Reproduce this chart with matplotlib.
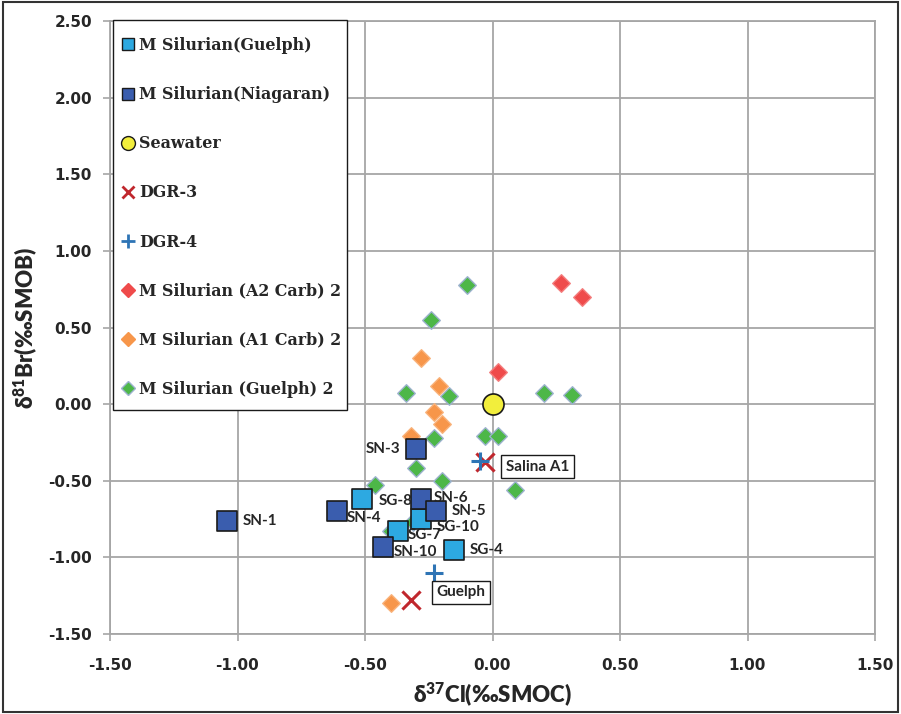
import matplotlib.pyplot as plt
from matplotlib.lines import Line2D
from matplotlib.patches import Rectangle

# --- Data ---
sg_names = ["SG-8", "SG-10", "SG-7", "SG-4"]
sg_x = [-0.51, -0.28, -0.37, -0.15]
sg_y = [-0.62, -0.75, -0.83, -0.95]

sn_names = ["SN-1", "SN-4", "SN-3", "SN-6", "SN-5", "SN-10"]
sn_x = [-1.04, -0.61, -0.30, -0.28, -0.22, -0.43]
sn_y = [-0.76, -0.70, -0.29, -0.62, -0.70, -0.93]

sea_x = [0.0]
sea_y = [0.0]

dgr3_x = [-0.03, -0.32]
dgr3_y = [-0.38, -1.28]

dgr4_x = [-0.05, -0.23]
dgr4_y = [-0.37, -1.10]

a2_x = [0.27, 0.35, 0.02]
a2_y = [0.79, 0.70, 0.21]

a1_x = [-0.28, -0.21, -0.23, -0.20, -0.32, -0.40]
a1_y = [0.30, 0.12, -0.05, -0.13, -0.21, -1.30]

g2_x = [-0.10, -0.24, -0.34, -0.17, 0.20, 0.31, -0.03, 0.02, -0.23,
        -0.30, -0.46, -0.20, 0.09, -0.31, -0.40]
g2_y = [0.78, 0.55, 0.07, 0.05, 0.07, 0.06, -0.21, -0.21, -0.22,
        -0.42, -0.53, -0.50, -0.56, -0.77, -0.83]

# label offsets (points) for the sample names
label_offsets = {
    "SG-8": (12, -1), "SG-10": (11, -6), "SG-7": (7, -3), "SG-4": (11, 0),
    "SN-1": (11, 0), "SN-4": (7, -5), "SN-3": (-11, 0), "SN-6": (9, 1),
    "SN-5": (11, 0), "SN-10": (8, -4),
}

# --- Colours ---
sg_color = '#2DA9E1'
sn_color = '#3A5DAE'
sea_color = '#F2EE3C'
dgr3_color = '#C0272D'
dgr4_color = '#2E74B5'
a2_color = '#EF4B4B'
a1_color = '#F7964A'
g2_color = '#4DB748'
g2_edge = '#9DB2CF'

fig = plt.figure(figsize=(9.01, 7.14), dpi=100)
ax = fig.add_axes([110 / 901, 1 - 634 / 714, 765 / 901, 613 / 714])

ax.scatter(g2_x, g2_y, marker='D', s=80, color=g2_color, edgecolor=g2_edge, linewidth=1, zorder=3)
ax.scatter(a1_x, a1_y, marker='D', s=80, color=a1_color, edgecolor='#F9B27A', linewidth=1, zorder=3)
ax.scatter(a2_x, a2_y, marker='D', s=80, color=a2_color, edgecolor='#F47C7C', linewidth=1, zorder=3)
ax.scatter(sg_x, sg_y, marker='s', s=220, color=sg_color, edgecolor='#1A1A1A', linewidth=1.2, zorder=4)
ax.scatter(sn_x, sn_y, marker='s', s=220, color=sn_color, edgecolor='#1A1A1A', linewidth=1.2, zorder=4)
ax.scatter(sea_x, sea_y, marker='o', s=230, color=sea_color, edgecolor='#1A1A1A', linewidth=1.2, zorder=5)
ax.scatter(dgr3_x, dgr3_y, marker='x', s=170, color=dgr3_color, linewidth=2.2, zorder=5)
ax.scatter(dgr4_x, dgr4_y, marker='+', s=170, color=dgr4_color, linewidth=2.2, zorder=5)

label_font = dict(family='Lato', fontweight='bold', fontsize=11, color='#262626')
for name, x, y in zip(sg_names + sn_names, sg_x + sn_x, sg_y + sn_y):
    dx, dy = label_offsets[name]
    ax.annotate(name, (x, y), xytext=(dx, dy), textcoords='offset points',
                ha='right' if dx < 0 else 'left', va='center', zorder=6, **label_font)

box = dict(boxstyle='square,pad=0.3', facecolor='white', edgecolor='#1A1A1A', linewidth=1)
ax.annotate("Salina A1", (dgr3_x[0], dgr3_y[0]), xytext=(15, -3), textcoords='offset points',
            ha='left', va='center', bbox=box, zorder=6, **label_font)
ax.annotate("Guelph", (dgr4_x[1], dgr4_y[1]), xytext=(2, -14), textcoords='offset points',
            ha='left', va='center', bbox=box, zorder=6, **label_font)

# axes styling
ax.set_xlim(-1.5, 1.5)
ax.set_ylim(-1.5, 2.5)
ax.set_xticks([-1.5, -1.0, -0.5, 0.0, 0.5, 1.0, 1.5])
ax.set_yticks([-1.5, -1.0, -0.5, 0.0, 0.5, 1.0, 1.5, 2.0, 2.5])
ax.xaxis.set_major_formatter(plt.FormatStrFormatter('%.2f'))
ax.yaxis.set_major_formatter(plt.FormatStrFormatter('%.2f'))
ax.grid(True, color='#A6A6A6', linewidth=1.3)
ax.set_axisbelow(True)
for spine in ax.spines.values():
    spine.set_color('#A6A6A6')
    spine.set_linewidth(1.3)
ax.tick_params(direction='out', length=5, color='#A6A6A6', width=1.2,
               labelsize=11, labelcolor='#262626', pad=4)
for lbl in ax.get_xticklabels() + ax.get_yticklabels():
    lbl.set_fontweight('bold')
ax.tick_params(axis='x', pad=12)
ax.tick_params(axis='y', pad=8)

ax.set_xlabel(r'$\mathregular{\delta^{37}}$Cl(‰SMOC)', family='Lato', fontweight='heavy',
              fontsize=16, color='#262626', labelpad=6)
ax.set_ylabel(r'$\mathregular{\delta^{81}}$Br(‰SMOB)', family='Lato', fontweight='heavy',
              fontsize=16, color='#262626', labelpad=6)

# legend: white box drawn by hand, entries laid out by the legend without frame
legend_box = Rectangle((113 / 901, 1 - 410 / 714), 234 / 901, 390 / 714,
                       transform=fig.transFigure, facecolor='white', edgecolor='#1A1A1A',
                       linewidth=1.0, zorder=9, clip_on=False)
ax.add_patch(legend_box)

handles = [
    Line2D([0], [0], marker='s', ls='none', ms=9, mfc=sg_color, mec='#1A1A1A', label='M Silurian(Guelph)'),
    Line2D([0], [0], marker='s', ls='none', ms=9, mfc=sn_color, mec='#1A1A1A', label='M Silurian(Niagaran)'),
    Line2D([0], [0], marker='o', ls='none', ms=10, mfc=sea_color, mec='#1A1A1A', label='Seawater'),
    Line2D([0], [0], marker='x', ls='none', ms=9, mew=2, color=dgr3_color, label='DGR-3'),
    Line2D([0], [0], marker='+', ls='none', ms=10, mew=2, color=dgr4_color, label='DGR-4'),
    Line2D([0], [0], marker='D', ls='none', ms=7, mfc=a2_color, mec=a2_color, label='M Silurian (A2 Carb) 2'),
    Line2D([0], [0], marker='D', ls='none', ms=7, mfc=a1_color, mec=a1_color, label='M Silurian (A1 Carb) 2'),
    Line2D([0], [0], marker='D', ls='none', ms=7, mfc=g2_color, mec=g2_edge, label='M Silurian (Guelph) 2'),
]
leg = ax.legend(handles=handles, loc='upper left', bbox_to_anchor=(122 / 901, 1 - 37 / 714),
                bbox_transform=fig.transFigure, borderaxespad=0, borderpad=0, frameon=False,
                handlelength=0.8, handletextpad=0.3, labelspacing=2.03,
                prop=dict(family='DejaVu Serif', weight='bold', size=11.4))
leg.set_zorder(10)
for t in leg.get_texts():
    t.set_color('#262626')

# outer frame of the figure
fig.patches.append(Rectangle((0.003, 0.003), 0.994, 0.994, transform=fig.transFigure,
                             fill=False, edgecolor='#333333', linewidth=1.5))

fig.savefig('out.png', dpi=100)
